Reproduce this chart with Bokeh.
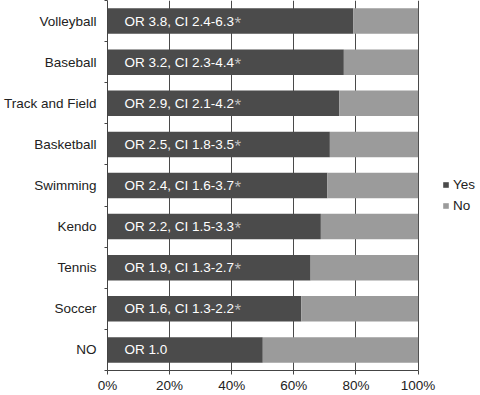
from bokeh.plotting import figure
from bokeh.models import Range1d, FixedTicker, Legend, LegendItem, ColumnDataSource
from bokeh.core.properties import value
from bokeh.embed import file_html
from bokeh.resources import INLINE

# Data (top to bottom as in the chart)
sports = ["Volleyball", "Baseball", "Track and Field", "Basketball", "Swimming",
          "Kendo", "Tennis", "Soccer", "NO"]
yes_pct = [79.1, 76.1, 74.6, 71.6, 70.8, 68.7, 65.4, 62.4, 50.0]
or_labels = ["OR 3.8, CI 2.4-6.3", "OR 3.2, CI 2.3-4.4", "OR 2.9, CI 2.1-4.2",
             "OR 2.5, CI 1.8-3.5", "OR 2.4, CI 1.6-3.7", "OR 2.2, CI 1.5-3.3",
             "OR 1.9, CI 1.3-2.7", "OR 1.6, CI 1.3-2.2", "OR 1.0"]
significant = [True, True, True, True, True, True, True, True, False]
x_ticks = [0, 20, 40, 60, 80, 100]
x_tick_labels = ["0%", "20%", "40%", "60%", "80%", "100%"]
series_names = ["Yes", "No"]

FONT = "Liberation Sans"
DARK = "#4b4b4b"
LIGHT = "#9b9b9b"

n = len(sports)
ypos = [n - i for i in range(n)]  # Volleyball at top
no_pct = [100 - v for v in yes_pct]

src = ColumnDataSource(dict(
    y=ypos, yes=yes_pct, no=no_pct, full=[100] * n, zero=[0] * n,
    lab=or_labels, star=["*" if s else "" for s in significant],
))

# frame extends to the right so the legend can sit inside it; axis stops at 100%
p = figure(width=480, height=395, output_backend="svg", toolbar_location=None,
           x_range=Range1d(0, 120.1), y_range=Range1d(0.5, n + 0.5),
           min_border_left=104, min_border_right=0, min_border_top=0,
           min_border_bottom=0)
p.outline_line_color = None
p.background_fill_color = "white"

r_yes = p.hbar(y="y", left="zero", right="yes", height=0.62, source=src,
               fill_color=DARK, line_color=None)
r_no = p.hbar(y="y", left="yes", right="full", height=0.62, source=src,
              fill_color=LIGHT, line_color=None)

p.text(x="zero", y="y", text="lab", source=src, x_offset=17,
       text_font=value(FONT), text_font_size="13.5px", text_color="white",
       text_align="left", text_baseline="middle")
p.text(x="zero", y="y", text="star", source=src, x_offset=127, y_offset=2,
       text_font=value(FONT), text_font_size="17px", text_color="#bdbdbd",
       text_align="left", text_baseline="middle")

# x axis
xa = p.xaxis[0]
xa.bounds = (0, 100)
xa.ticker = FixedTicker(ticks=x_ticks)
xa.major_label_overrides = {t: l for t, l in zip(x_ticks, x_tick_labels)}
xa.major_label_text_font = FONT
xa.major_label_text_font_size = "13.5px"
xa.major_label_text_color = "#222222"
xa.major_tick_out = 4
xa.major_tick_in = 0
xa.minor_tick_out = 0
xa.minor_tick_in = 0
xa.axis_line_color = "#444444"
xa.major_tick_line_color = "#444444"
xa.major_label_standoff = 3

# y axis: labels at band centres, small ticks at band boundaries
ya = p.yaxis[0]
ya.ticker = FixedTicker(ticks=ypos, minor_ticks=[k + 0.5 for k in range(n + 1)])
ya.major_label_overrides = {y: s for y, s in zip(ypos, sports)}
ya.major_label_text_font = FONT
ya.major_label_text_font_size = "13.5px"
ya.major_label_text_color = "#222222"
ya.major_tick_out = 0
ya.major_tick_in = 0
ya.minor_tick_out = 3
ya.minor_tick_in = 0
ya.minor_tick_line_color = "#444444"
ya.axis_line_color = "#444444"
ya.major_label_standoff = 8

p.xgrid.ticker = FixedTicker(ticks=x_ticks)
p.xgrid.grid_line_color = "#4a4a4a"
p.xgrid.grid_line_width = 1
p.ygrid.grid_line_color = None

legend = Legend(items=[LegendItem(label=series_names[0], renderers=[r_yes]),
                       LegendItem(label=series_names[1], renderers=[r_no])],
                location=(335, 157), glyph_width=7, glyph_height=7,
                label_text_font=FONT, label_text_font_size="13.5px",
                label_text_color="#222222", label_standoff=4, spacing=6,
                padding=0, margin=0, border_line_color=None,
                background_fill_alpha=0)
p.add_layout(legend, "center")

open("out.html", "w").write(file_html(p, INLINE))
